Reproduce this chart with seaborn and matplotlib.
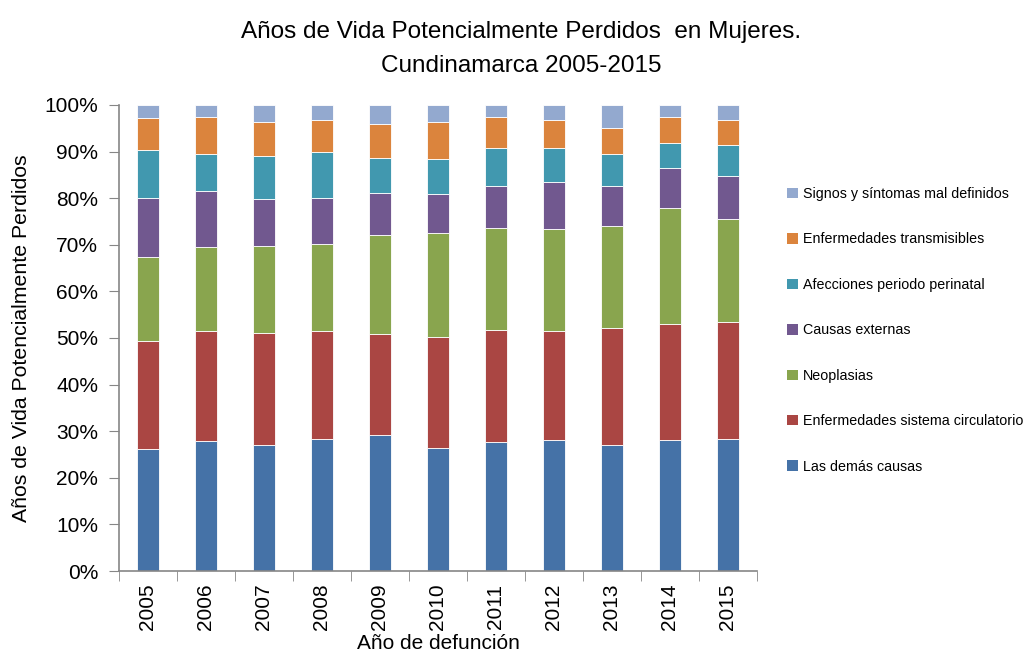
import matplotlib
matplotlib.use("Agg")
import matplotlib.pyplot as plt
import seaborn as sns
import pandas as pd
from matplotlib.patches import Patch
from matplotlib.ticker import FixedLocator

# Datos (% de AVPP por causa)
anios = [2005, 2006, 2007, 2008, 2009, 2010, 2011, 2012, 2013, 2014, 2015]
demas_causas = [26.1, 27.8, 27.0, 28.3, 29.1, 26.5, 27.6, 28.1, 27.0, 28.1, 28.3]
circulatorio = [23.2, 23.6, 24.0, 23.3, 21.7, 23.8, 24.2, 23.3, 25.2, 25.0, 25.1]
neoplasias = [18.0, 18.1, 18.7, 18.5, 21.3, 22.3, 21.9, 22.0, 21.8, 24.7, 22.1]
externas = [12.8, 12.0, 10.2, 9.9, 8.9, 8.2, 9.0, 10.1, 8.6, 8.6, 9.2]
perinatal = [10.2, 8.0, 9.1, 9.8, 7.7, 7.5, 8.0, 7.2, 6.9, 5.5, 6.8]
transmisibles = [6.8, 7.9, 7.4, 7.0, 7.3, 8.0, 6.8, 6.1, 5.6, 5.5, 5.2]
signos = [2.9, 2.6, 3.6, 3.2, 4.0, 3.7, 2.5, 3.2, 4.9, 2.6, 3.3]

causas = ["Las demás causas", "Enfermedades sistema circulatorio", "Neoplasias",
          "Causas externas", "Afecciones periodo perinatal",
          "Enfermedades transmisibles", "Signos y síntomas mal definidos"]
series = [demas_causas, circulatorio, neoplasias, externas, perinatal, transmisibles, signos]
colores = ["#4572A7", "#AA4643", "#89A54E", "#71588F", "#4198AF", "#DB843D", "#93A9CF"]

filas = []
for causa, vals in zip(causas, series):
    for a, v in zip(anios, vals):
        filas.append({"anio": a, "causa": causa, "valor": v})
df = pd.DataFrame(filas)

sns.set_style("white")
plt.rcParams["font.family"] = ["Liberation Sans", "DejaVu Sans"]
plt.rcParams["text.color"] = "black"
plt.rcParams["axes.labelcolor"] = "black"
plt.rcParams["xtick.labelcolor"] = "black"
plt.rcParams["ytick.labelcolor"] = "black"

fig = plt.figure(figsize=(10.32, 6.64), dpi=100)
ax = fig.add_axes([0.1153, 0.140, 0.6182, 0.702])

# seaborn apila el primer nivel de hue arriba -> invertir el orden
sns.histplot(data=df, x="anio", weights="valor", hue="causa",
             hue_order=causas[::-1], palette=dict(zip(causas, colores)),
             multiple="stack", discrete=True, shrink=0.39, alpha=1,
             edgecolor="white", linewidth=0.6, legend=False, ax=ax)

ax.set_xlim(2004.5, 2015.5)
ax.set_ylim(0, 100)
ax.set_yticks(range(0, 101, 10))
ax.set_yticklabels([f"{v}%" for v in range(0, 101, 10)], fontsize=15)
ax.set_xticks(anios)
ax.set_xticklabels([str(a) for a in anios], rotation=90, fontsize=15)
ax.xaxis.set_minor_locator(FixedLocator([a - 0.5 for a in anios] + [2015.5]))
ax.tick_params(axis="x", which="major", length=0, pad=9)
ax.tick_params(axis="x", which="minor", length=7, color="#868686", direction="out", bottom=True)
ax.tick_params(axis="y", length=7, color="#868686", direction="out", left=True, pad=8)

for s in ["top", "right"]:
    ax.spines[s].set_visible(False)
for s in ["left", "bottom"]:
    ax.spines[s].set_color("#868686")
    ax.spines[s].set_linewidth(1.2)

ax.set_xlabel("Año de defunción", fontsize=15, labelpad=3)
ax.set_ylabel("Años de Vida Potencialmente Perdidos", fontsize=15.3, labelpad=10)

fig.text(0.505, 0.952, "Años de Vida Potencialmente Perdidos  en Mujeres.",
         ha="center", va="center", fontsize=17.5)
fig.text(0.505, 0.901, "Cundinamarca 2005-2015", ha="center", va="center", fontsize=17.5)

handles = [Patch(facecolor=c, edgecolor="none") for c in colores[::-1]]
fig.legend(handles, causas[::-1], loc="upper left", bbox_to_anchor=(0.750, 0.738),
           frameon=False, fontsize=10.3, handlelength=0.75, handleheight=0.75,
           handletextpad=0.35, labelspacing=2.2)

fig.savefig("out.png", dpi=100)
